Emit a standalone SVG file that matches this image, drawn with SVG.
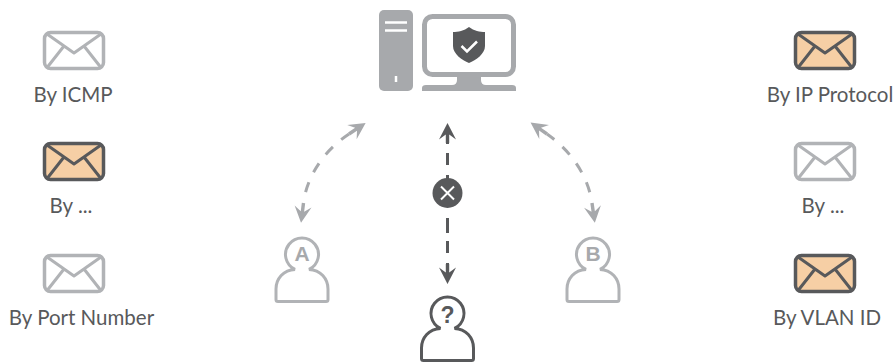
<svg xmlns="http://www.w3.org/2000/svg" width="894" height="363" viewBox="0 0 894 363">
<style>
.lbl{font-family:"Lato","Open Sans","Liberation Sans",sans-serif;font-size:20.500px;fill:#58595b;text-anchor:middle}
.env{stroke-width:3.500;stroke-linejoin:round;stroke-linecap:round}
.g{stroke:#b1b3b6;fill:#fff}
.d{stroke:#58595b;fill:#f6cfa5}
.pl{fill:#fff;stroke-width:3}
.conn{fill:none;stroke-width:3}
.curve{stroke-dasharray:10.500 11;stroke-dashoffset:10.500}
.letter{font-family:"Liberation Sans",sans-serif;font-weight:700;font-size:21px;text-anchor:middle}
</style>
<defs>
<symbol id="envelope" overflow="visible">
<rect x="1.500" y="1.500" width="59" height="36" rx="6" fill="inherit"/>
<path d="M4 3 31 22 58 3M21 15 4.500 36M41 15 57.500 36" fill="none" stroke-width="3"/>
</symbol>
<marker id="ag" markerUnits="userSpaceOnUse" markerWidth="22" markerHeight="18" refX="0" refY="8" orient="auto-start-reverse" overflow="visible"><path d="M0 6.300H8.500L3.500-0.500 20 8 3.500 16.500 8.500 9.700H0Z" fill="#a7a9ac"/></marker>
<marker id="ad" markerUnits="userSpaceOnUse" markerWidth="22" markerHeight="18" refX="0" refY="8" orient="auto-start-reverse" overflow="visible"><path d="M0 6.300H8.500L3.500-0.500 20 8 3.500 16.500 8.500 9.700H0Z" fill="#58595b"/></marker>
<symbol id="person" overflow="visible">
<path d="M20.500 32.400A16.500 16.500 0 1 1 34.500 32.400C46 32.800 53.500 42 53.500 52V62.500Q53.500 64.500 51.500 64.500H3.500Q1.500 64.500 1.500 62.500V52C1.500 42 9 32.800 20.500 32.400Z" fill="#fff"/>
</symbol>
</defs>
<g id="connectors">
<path class="conn curve" stroke="#a7a9ac" marker-start="url(#ag)" marker-end="url(#ag)" d="M303.500 203C307 175 325 150 349 134"/>
<path class="conn curve" stroke="#a7a9ac" marker-start="url(#ag)" marker-end="url(#ag)" d="M592 203C588 175 570 150 547 134"/>
<path class="conn" stroke="#58595b" marker-start="url(#ad)" marker-end="url(#ad)" d="M447.500 143V144M447.500 153V165M447.500 175V180M447.500 218V233M447.500 241V253M447.500 263V264"/>
</g>
<g id="computer">
<rect x="379" y="10" width="34" height="81" rx="5" fill="#a7a9ac"/>
<path d="M385 22.500H407M385 30.500H407" stroke="#fff" stroke-width="2.500" fill="none"/>
<path d="M396 76V82" stroke="#fff" stroke-width="2.500" fill="none"/>
<rect x="424.500" y="16.500" width="89" height="58" rx="8" fill="#fff" stroke="#a7a9ac" stroke-width="5"/>
<path d="M457 77H481V80Q481 85 486 85H512Q516 85 516 88V91H422V88Q422 85 426 85H452Q457 85 457 80Z" fill="#a7a9ac"/>
<path d="M469 27C474 31 480 32 485 32V46C485 54 476 60 469 63C462 60 453 54 453 46V32C458 32 464 31 469 27Z" fill="#58595b"/>
<path d="M461.500 46 467 51.500 477 41.500" stroke="#fff" stroke-width="2.500" fill="none"/>
</g>
<g id="msg-icmp"><use href="#envelope" x="43" y="31" class="env g"/><text class="lbl" x="73" y="101.500">By ICMP</text></g>
<g id="msg-other-left"><use href="#envelope" x="43" y="142" class="env d"/><text class="lbl" x="71" y="213">By ...</text></g>
<g id="msg-port"><use href="#envelope" x="43" y="254" class="env g"/><text class="lbl" x="81.500" y="325">By Port Number</text></g>
<g id="msg-ip"><use href="#envelope" x="794" y="31" class="env d"/><text class="lbl" x="830" y="101.500">By IP Protocol</text></g>
<g id="msg-other-right"><use href="#envelope" x="794" y="142" class="env g"/><text class="lbl" x="823" y="213">By ...</text></g>
<g id="msg-vlan"><use href="#envelope" x="794" y="254" class="env d"/><text class="lbl" x="827" y="325">By VLAN ID</text></g>
<g id="blocked">
<circle cx="447.500" cy="193" r="15" fill="#58595b"/>
<path d="M441 186.500 454 199.500M454 186.500 441 199.500" stroke="#fff" stroke-width="2" fill="none"/>
</g>
<g id="user-a"><use href="#person" x="274.500" y="237" class="pl" stroke="#b1b3b6"/><text x="302" y="261" class="letter" fill="#a7a9ac">A</text></g>
<g id="user-b"><use href="#person" x="565.500" y="237" class="pl" stroke="#b1b3b6"/><text x="593" y="261" class="letter" fill="#a7a9ac">B</text></g>
<g id="user-unknown"><use href="#person" x="420" y="296" class="pl" stroke="#58595b"/><text x="447.500" y="323" class="letter" fill="#58595b" style="font-size:23px">?</text></g>
</svg>
